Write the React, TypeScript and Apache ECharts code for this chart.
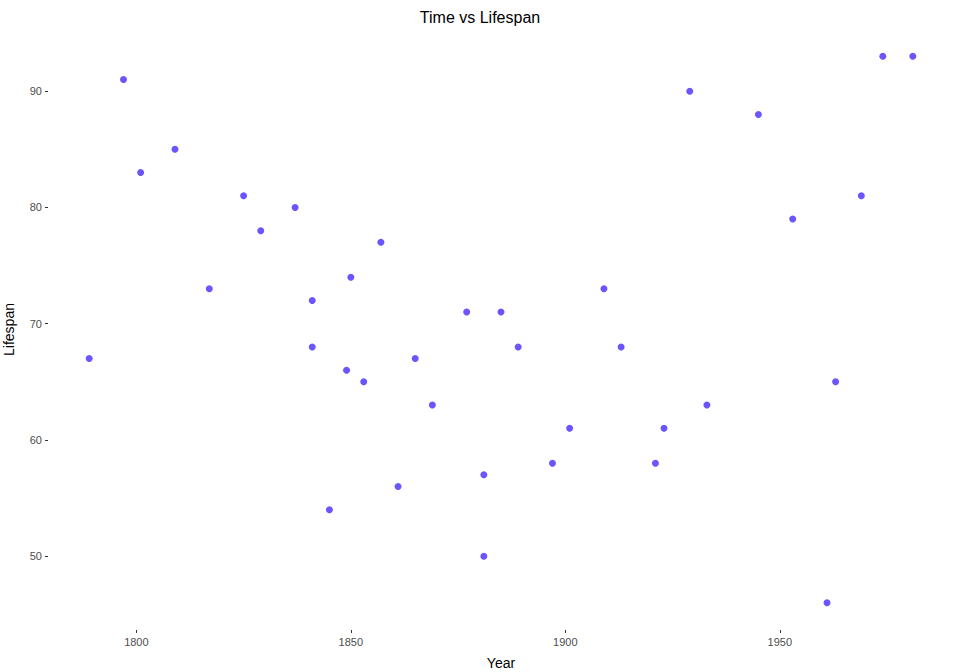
import React, { useEffect, useRef } from "react";
import * as echarts from "echarts";

const years = [1789,1797,1801,1809,1817,1825,1829,1837,1841,1841,1845,1849,1850,1853,1857,1861,1865,1869,1877,1881,1881,1885,1889,1897,1901,1909,1913,1921,1923,1929,1933,1945,1953,1963,1961,1969,1974,1981];
const lifespans = [67,91,83,85,73,81,78,80,72,68,54,66,74,65,77,56,67,63,71,57,50,71,68,58,61,73,68,58,61,90,63,88,79,65,46,81,93,93];
const xTicks = [1800,1850,1900,1950];
const yTicks = [50,60,70,80,90];

export default function App() {
  const ref = useRef<HTMLDivElement>(null);
  useEffect(() => {
    const chart = echarts.init(ref.current!, null, { renderer: "svg" });
    const tickLabel = { color: "#4d4d4d", fontSize: 11, fontFamily: "Liberation Sans, Arial", formatter: (v: number) => String(v) };
    chart.setOption({
      animation: false,
      title: { text: "Time vs Lifespan", left: "center", top: 4, textStyle: { fontSize: 16, fontWeight: "normal", color: "#000", fontFamily: "Liberation Sans, Arial" } },
      grid: { left: 48, right: 6, top: 29, bottom: 42, containLabel: false, outerBoundsMode: "none" },
      xAxis: {
        type: "value", min: 1779.4, max: 1990.6,
        name: "Year", nameLocation: "middle", nameGap: 26,
        nameTextStyle: { fontSize: 14, color: "#000", fontFamily: "Liberation Sans, Arial" },
        axisLine: { show: false }, splitLine: { show: false },
        axisTick: { show: true, customValues: xTicks, length: 3, lineStyle: { color: "#333" } },
        axisLabel: { ...tickLabel, customValues: xTicks, margin: 6 },
      },
      yAxis: {
        type: "value", min: 43.65, max: 95.35,
        name: "Lifespan", nameLocation: "middle", nameGap: 32,
        nameTextStyle: { fontSize: 14, color: "#000", fontFamily: "Liberation Sans, Arial" },
        axisLine: { show: false }, splitLine: { show: false },
        axisTick: { show: true, customValues: yTicks, length: 3, lineStyle: { color: "#333" } },
        axisLabel: { ...tickLabel, customValues: yTicks, margin: 6 },
      },
      series: [{
        type: "scatter",
        symbolSize: 7,
        itemStyle: { color: "#6a55ff", opacity: 1 },
        data: years.map((y, i) => [y, lifespans[i]]),
      }],
    });
    return () => chart.dispose();
  }, []);
  return <div ref={ref} style={{ width: 960, height: 672, position: "absolute", left: 0, top: 0 }} />;
}
